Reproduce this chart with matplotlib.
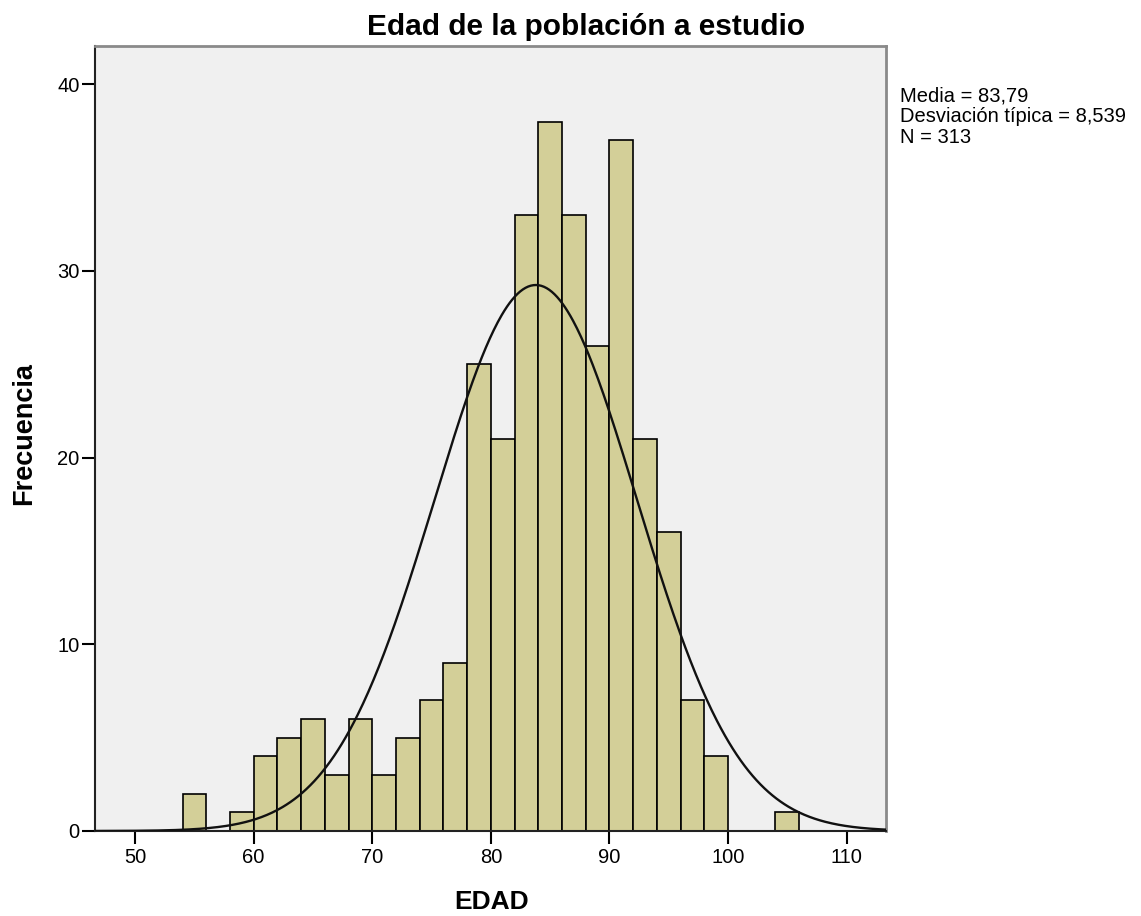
import numpy as np
import matplotlib
matplotlib.use("Agg")
import matplotlib.pyplot as plt

plt.rcParams['font.family'] = ['Liberation Sans', 'DejaVu Sans']

# Age histogram, bins of 2 years
bin_edges = list(range(54, 108, 2))
counts = [2, 0, 1, 4, 5, 6, 3, 6, 3, 5, 7, 9, 25, 21, 33, 38, 33, 26, 37, 21, 16, 7, 4, 0, 0, 1]
media = 83.79
desviacion = 8.539
n_total = 313
x_ticks = [50, 60, 70, 80, 90, 100, 110]
y_ticks = [0, 10, 20, 30, 40]

bar_color = '#D3CF98'
bg_color = '#F0F0F0'

fig = plt.figure(figsize=(11.41, 9.16), dpi=100)
ax = fig.add_axes([95 / 1141, 1 - 831 / 916, (886 - 95) / 1141, (831 - 46) / 916])
ax.set_facecolor(bg_color)

widths = np.diff(bin_edges)
ax.bar(bin_edges[:-1], counts, width=widths, align='edge', color=bar_color,
       edgecolor='black', linewidth=1.2, zorder=2)

# Normal curve scaled to counts
xmin, xmax = 46.62, 113.32
xs = np.linspace(xmin, xmax, 600)
bw = widths[0]
ys = n_total * bw / (desviacion * np.sqrt(2 * np.pi)) * np.exp(-0.5 * ((xs - media) / desviacion) ** 2)
ax.plot(xs, ys, color='#111111', linewidth=1.7, zorder=3)

ax.set_xlim(xmin, xmax)
ax.set_ylim(0, 42.05)
ax.set_xticks(x_ticks)
ax.set_yticks(y_ticks)
ax.tick_params(axis='both', direction='out', length=9.5, width=1.5, labelsize=14.5,
               colors='black')
ax.tick_params(axis='y', pad=1.5)
ax.tick_params(axis='x', pad=3)
for side in ['left', 'bottom']:
    ax.spines[side].set_color('#222222')
    ax.spines[side].set_linewidth(1.5)
for side in ['top', 'right']:
    ax.spines[side].set_color('#8a8a8a')
    ax.spines[side].set_linewidth(2.0)

fig.text(586 / 1141, 1 - 35 / 916, 'Edad de la población a estudio', ha='center', va='baseline',
         fontsize=21.5, fontweight='bold')
fig.text(492 / 1141, 1 - 902 / 916, 'EDAD', ha='center', va='center', fontsize=19, fontweight='bold')
fig.text(24 / 1141, 1 - 434 / 916, 'Frecuencia', ha='center', va='center', rotation=90,
         fontsize=19.5, fontweight='bold')

stats = 'Media = {}\nDesviación típica = {}\nN = {}'.format(
    f'{media:.2f}'.replace('.', ','), f'{desviacion:.3f}'.replace('.', ','), n_total)
fig.text(900 / 1141, 1 - 87 / 916, stats, ha='left', va='top', fontsize=14.5, linespacing=1.1)

fig.savefig('out.png', dpi=100, facecolor='white')
